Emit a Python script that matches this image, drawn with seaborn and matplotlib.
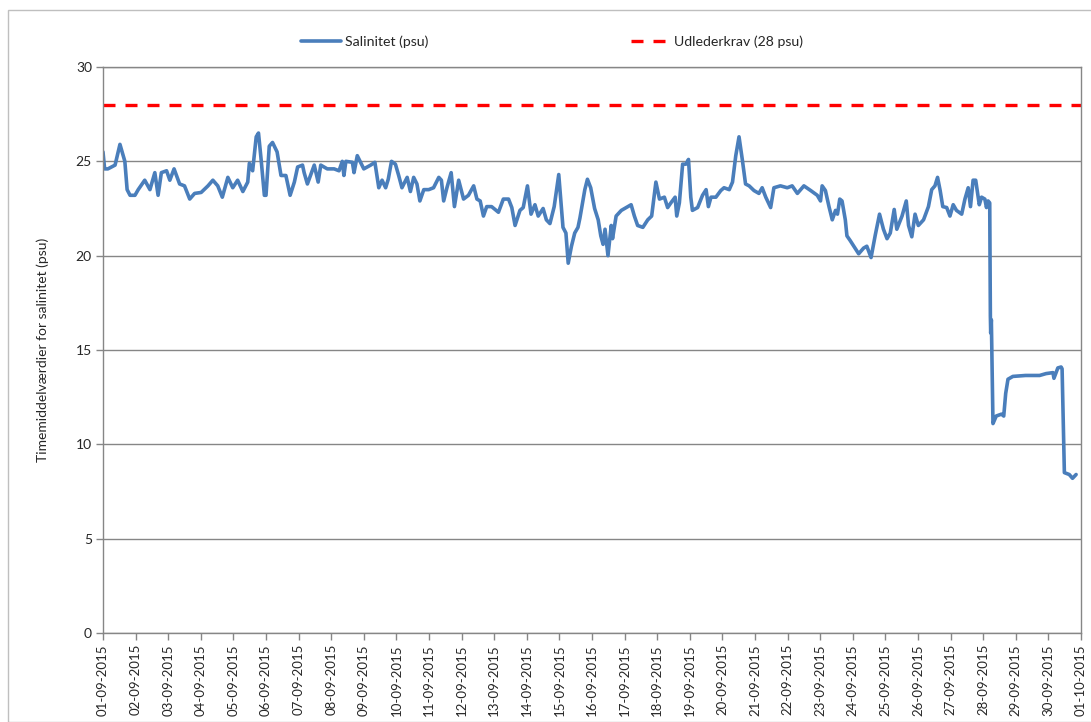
import numpy as np
import pandas as pd
import matplotlib
matplotlib.use("Agg")
import matplotlib.pyplot as plt
import matplotlib.dates as mdates
from matplotlib.patches import Rectangle
import seaborn as sns

# days since 01-09-2015 00:00
days = [
    0.00, 0.05, 0.15, 0.37, 0.52, 0.67, 0.74, 0.83, 0.98, 1.08,
    1.28, 1.44, 1.59, 1.69, 1.79, 1.95, 2.05, 2.18, 2.35, 2.50,
    2.66, 2.81, 3.01, 3.22, 3.37, 3.52, 3.66, 3.83, 3.98, 4.13,
    4.29, 4.44, 4.49, 4.59, 4.70, 4.77, 4.85, 4.95, 5.00, 5.10,
    5.20, 5.34, 5.46, 5.61, 5.74, 5.87, 5.97, 6.12, 6.17, 6.27,
    6.48, 6.60, 6.68, 6.88, 7.09, 7.24, 7.34, 7.39, 7.45, 7.65,
    7.70, 7.80, 8.00, 8.21, 8.34, 8.46, 8.56, 8.67, 8.75, 8.85,
    8.97, 9.07, 9.17, 9.33, 9.43, 9.53, 9.63, 9.72, 9.84, 9.99,
    10.14, 10.30, 10.38, 10.45, 10.55, 10.68, 10.78, 10.91, 11.06, 11.21,
    11.37, 11.47, 11.57, 11.67, 11.77, 11.92, 12.13, 12.28, 12.44, 12.54,
    12.64, 12.79, 12.89, 13.02, 13.13, 13.25, 13.35, 13.50, 13.60, 13.71,
    13.84, 13.98, 14.11, 14.20, 14.27, 14.37, 14.47, 14.57, 14.63, 14.78,
    14.86, 14.96, 15.08, 15.19, 15.27, 15.34, 15.40, 15.49, 15.59, 15.63,
    15.74, 15.90, 16.05, 16.20, 16.30, 16.40, 16.56, 16.71, 16.83, 16.96,
    17.07, 17.22, 17.32, 17.42, 17.55, 17.60, 17.68, 17.78, 17.88, 17.96,
    18.03, 18.08, 18.24, 18.39, 18.50, 18.57, 18.65, 18.80, 18.95, 19.05,
    19.21, 19.31, 19.41, 19.51, 19.61, 19.71, 19.82, 19.97, 20.12, 20.22,
    20.33, 20.48, 20.58, 20.78, 20.99, 21.14, 21.30, 21.50, 21.71, 21.91,
    22.01, 22.06, 22.16, 22.27, 22.37, 22.47, 22.53, 22.60, 22.67, 22.77,
    22.82, 22.92, 23.03, 23.18, 23.33, 23.43, 23.56, 23.69, 23.82, 23.94,
    24.05, 24.15, 24.27, 24.35, 24.51, 24.64, 24.71, 24.81, 24.91, 25.01,
    25.17, 25.32, 25.42, 25.52, 25.60, 25.68, 25.76, 25.88, 25.98, 26.08,
    26.18, 26.34, 26.44, 26.54, 26.61, 26.69, 26.77, 26.88, 26.95, 27.05,
    27.10, 27.15, 27.20, 27.22, 27.23, 27.25, 27.30, 27.40, 27.56, 27.63,
    27.69, 27.76, 27.91, 28.30, 28.73, 28.93, 29.14, 29.17, 29.29, 29.39,
    29.42, 29.49, 29.64, 29.74, 29.85,
]

salinity = [
    25.5, 24.6, 24.6, 24.8, 25.9, 25.0, 23.5, 23.2, 23.2, 23.5,
    24.0, 23.5, 24.4, 23.2, 24.4, 24.5, 24.0, 24.6, 23.8, 23.7,
    23.0, 23.3, 23.35, 23.7, 24.0, 23.7, 23.1, 24.15, 23.6, 24.0,
    23.4, 23.9, 24.9, 24.5, 26.3, 26.5, 25.1, 23.2, 23.2, 25.8,
    26.0, 25.5, 24.25, 24.25, 23.2, 23.9, 24.7, 24.8, 24.4, 23.8,
    24.8, 23.9, 24.8, 24.6, 24.6, 24.5, 25.0, 24.25, 25.0, 24.95,
    24.4, 25.3, 24.6, 24.8, 24.95, 23.6, 24.0, 23.6, 24.05, 25.0,
    24.85, 24.25, 23.6, 24.15, 23.4, 24.15, 23.8, 22.9, 23.5, 23.5,
    23.6, 24.15, 24.0, 22.9, 23.6, 24.4, 22.6, 24.0, 23.0, 23.2,
    23.7, 23.0, 22.9, 22.1, 22.6, 22.6, 22.3, 23.0, 23.0, 22.55,
    21.6, 22.4, 22.55, 23.7, 22.2, 22.7, 22.1, 22.5, 21.9, 21.7,
    22.6, 24.3, 21.5, 21.2, 19.6, 20.5, 21.2, 21.5, 22.0, 23.5,
    24.05, 23.6, 22.5, 21.9, 21.05, 20.6, 21.4, 20.0, 21.6, 20.9,
    22.1, 22.4, 22.55, 22.7, 22.1, 21.6, 21.5, 21.9, 22.1, 23.9,
    23.0, 23.1, 22.55, 22.8, 23.1, 22.1, 22.8, 24.85, 24.85, 25.1,
    23.1, 22.4, 22.55, 23.2, 23.5, 22.6, 23.1, 23.1, 23.45, 23.6,
    23.5, 23.9, 25.3, 26.3, 25.1, 23.8, 23.7, 23.45, 23.3, 23.6,
    23.1, 22.55, 23.6, 23.7, 23.6, 23.7, 23.3, 23.7, 23.45, 23.2,
    22.9, 23.7, 23.45, 22.6, 21.9, 22.4, 22.2, 23.0, 22.9, 21.9,
    21.05, 20.8, 20.5, 20.1, 20.4, 20.5, 19.9, 21.1, 22.2, 21.4,
    20.9, 21.2, 22.45, 21.4, 22.1, 22.9, 21.6, 21.0, 22.2, 21.6,
    21.9, 22.6, 23.5, 23.7, 24.15, 23.45, 22.6, 22.55, 22.1, 22.7,
    22.4, 22.2, 23.0, 23.6, 22.6, 24.0, 24.0, 22.7, 23.1, 23.0,
    22.55, 22.9, 22.8, 16.8, 15.9, 16.6, 11.1, 11.5, 11.6, 11.5,
    12.7, 13.45, 13.6, 13.65, 13.65, 13.75, 13.8, 13.5, 14.05, 14.1,
    14.0, 8.5, 8.4, 8.2, 8.4,
]

limit = 28
yticks = [0, 5, 10, 15, 20, 25, 30]

start = pd.Timestamp("2015-09-01")
end = pd.Timestamp("2015-10-01")
df = pd.DataFrame({
    "tid": start + pd.to_timedelta(days, unit="D"),
    "salinitet": salinity,
})

sns.set_style("white")
plt.rcParams["font.family"] = ["Lato", "DejaVu Sans"]

fig = plt.figure(figsize=(10.91, 7.22), dpi=100)
ax = fig.add_axes([103 / 1091, 1 - 633 / 722, 978 / 1091, 566 / 722])

fig.patches.append(Rectangle(
    (8 / 1091, 0), 1.5, 1 - 10 / 722,
    transform=fig.transFigure, fill=False,
    edgecolor="#bfbfbf", linewidth=1, zorder=-1
))

sns.lineplot(
    data=df, x="tid", y="salinitet", ax=ax,
    color="#4a7ebb", linewidth=2.6, label="Salinitet (psu)"
)

ax.axhline(
    limit, color="#ff0000", linewidth=2.4,
    linestyle=(0, (3.6, 3.0)), label="Udlederkrav (28 psu)"
)

ax.set_xlim(start, end)
ax.set_ylim(0, 30)
ax.set_yticks(yticks)
ax.yaxis.grid(True, color="#868686", linewidth=1)
ax.xaxis.grid(False)

ax.xaxis.set_major_locator(mdates.DayLocator())
ax.xaxis.set_major_formatter(mdates.DateFormatter("%d-%m-%Y"))
plt.setp(ax.get_xticklabels(), rotation=90, fontsize=9.5)
plt.setp(ax.get_yticklabels(), fontsize=10)

ax.tick_params(axis="both", direction="out", length=5, width=1,
               color="#868686", pad=3, bottom=True, left=True)

for side in ["left", "bottom", "top", "right"]:
    ax.spines[side].set_color("#868686")
    ax.spines[side].set_linewidth(1)

ax.set_xlabel("")
ax.set_ylabel("Timemiddelværdier for salinitet (psu)", fontsize=10, labelpad=19)

ax.get_legend().remove()
handles, labels = ax.get_legend_handles_labels()
fig.legend(
    handles, labels, loc="center", ncol=2,
    bbox_to_anchor=(0.506, 1 - 42 / 722),
    frameon=False, fontsize=10.2, columnspacing=14.3,
    handlelength=2.8, handletextpad=0.25
)

plt.savefig("out.png", dpi=100)
